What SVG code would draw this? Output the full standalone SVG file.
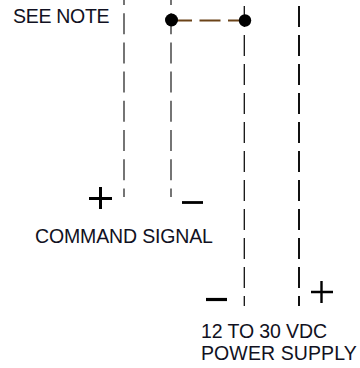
<svg xmlns="http://www.w3.org/2000/svg" width="360" height="368" viewBox="0 0 360 368">
<style>
text{font-family:"Liberation Sans",Arial,sans-serif;font-size:19.500px;fill:#111122}
.g{fill:none;stroke:#666;stroke-width:1.8;stroke-dasharray:21 8.2}
.k{fill:none;stroke:#111;stroke-dasharray:21 8}
.s{fill:none;stroke:#000}
</style>
<rect width="360" height="368" fill="#fff"/>
<g id="connectors">
<path class="g" d="M124 -16V197"/>
<path class="g" d="M171 -16V197"/>
<path class="k" style="stroke-width:1.300" d="M244.300 6V306"/>
<path class="k" style="stroke-width:2" d="M299 6V306"/>
<path d="M171 20.500H245" fill="none" stroke="#6b4318" stroke-width="2" stroke-dasharray="21 7.500"/>
</g>
<g id="dot-left"><circle cx="171.500" cy="20" r="6.500" fill="#000"/></g>
<g id="dot-right"><circle cx="245" cy="20.500" r="6.200" fill="#000"/></g>
<g id="see-note"><text x="13" y="23" letter-spacing="-.3">SEE NOTE</text></g>
<g id="command-signal">
<path class="s" stroke-width="3" d="M89 198.500H112M100.500 187V209"/>
<path class="s" stroke-width="2.800" d="M182 202.500H203"/>
<text x="35" y="243" letter-spacing="-.15">COMMAND SIGNAL</text>
</g>
<g id="power-supply">
<path class="s" stroke-width="3.200" d="M206 299.500H227"/>
<path class="s" stroke-width="2.400" d="M311 292H333M321.500 281V303"/>
<text x="201" y="338" letter-spacing="-.1">12 TO 30 VDC</text>
<text x="201" y="359.500" letter-spacing=".1">POWER SUPPLY</text>
</g>
</svg>
